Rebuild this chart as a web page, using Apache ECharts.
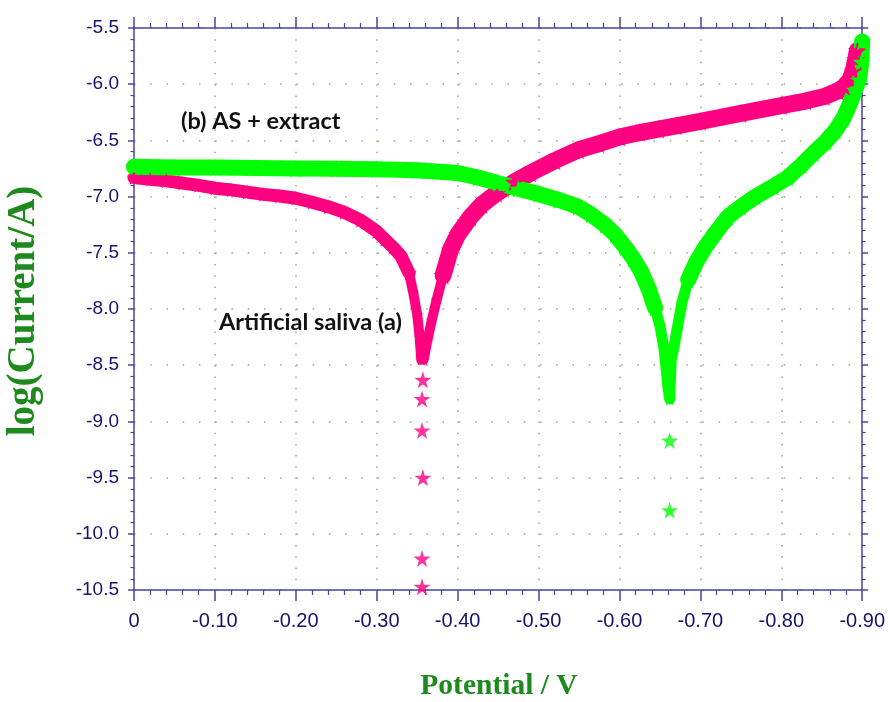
<!DOCTYPE html>
<html>
<head>
<meta charset="utf-8">
<script src="https://cdn.jsdelivr.net/npm/echarts@6/dist/echarts.min.js"></script>
<style>
  html, body { margin: 0; padding: 0; background: #fff; }
  #main { width: 888px; height: 702px; }
</style>
</head>
<body>
<div id="main"></div>
<script>
// tick labels
var xTickLabels = ['0', '-0.10', '-0.20', '-0.30', '-0.40', '-0.50', '-0.60', '-0.70', '-0.80', '-0.90'];
var yTickLabels = ['-10.5', '-10.0', '-9.5', '-9.0', '-8.5', '-8.0', '-7.5', '-7.0', '-6.5', '-6.0', '-5.5'];

// (a) artificial saliva : [potential V, log(I/A)]
var salivaCathodic = [
    [0, -6.83], [-0.02, -6.845], [-0.04, -6.86], [-0.06, -6.88], [-0.08, -6.90],
    [-0.10, -6.925], [-0.12, -6.94], [-0.14, -6.96], [-0.16, -6.98], [-0.18, -6.995],
    [-0.20, -7.015], [-0.22, -7.05], [-0.24, -7.09], [-0.26, -7.14], [-0.28, -7.21],
    [-0.30, -7.31], [-0.31, -7.38], [-0.32, -7.45], [-0.33, -7.53], [-0.34, -7.68],
    [-0.345, -7.85], [-0.35, -8.05], [-0.353, -8.25], [-0.355, -8.45]
];
var salivaTip = [
    [-0.357, -8.63], [-0.356, -8.80], [-0.356, -9.08], [-0.357, -9.50], [-0.356, -10.22], [-0.356, -10.47]
];
var salivaAnodic = [
    [-0.355, -8.45], [-0.358, -8.45], [-0.362, -8.30], [-0.368, -8.10], [-0.374, -7.92], [-0.382, -7.70],
    [-0.391, -7.475], [-0.40, -7.34], [-0.416, -7.18], [-0.43, -7.07], [-0.448, -6.97],
    [-0.47, -6.87], [-0.49, -6.79], [-0.52, -6.68], [-0.549, -6.585], [-0.574, -6.53],
    [-0.60, -6.47], [-0.625, -6.43], [-0.648, -6.40], [-0.67, -6.37], [-0.70, -6.33],
    [-0.75, -6.26], [-0.80, -6.19], [-0.83, -6.15], [-0.853, -6.11], [-0.87, -6.06],
    [-0.878, -6.02], [-0.885, -5.96], [-0.889, -5.88], [-0.892, -5.78], [-0.894, -5.70]
];

// (b) AS + extract
var extractCathodic = [
    [0, -6.735], [-0.05, -6.74], [-0.10, -6.742], [-0.15, -6.745], [-0.20, -6.75],
    [-0.25, -6.752], [-0.30, -6.757], [-0.35, -6.765], [-0.40, -6.79], [-0.425, -6.83],
    [-0.45, -6.88], [-0.475, -6.93], [-0.50, -6.977], [-0.525, -7.03], [-0.549, -7.09],
    [-0.565, -7.16], [-0.582, -7.25], [-0.595, -7.34], [-0.607, -7.45], [-0.617, -7.55],
    [-0.627, -7.67], [-0.636, -7.82], [-0.644, -7.99], [-0.650, -8.15], [-0.655, -8.35],
    [-0.658, -8.55], [-0.660, -8.70], [-0.662, -8.80]
];
var extractTip = [
    [-0.662, -9.17], [-0.662, -9.79]
];
var extractAnodic = [
    [-0.664, -8.45], [-0.667, -8.35], [-0.671, -8.19], [-0.677, -7.95], [-0.685, -7.74],
    [-0.695, -7.58], [-0.706, -7.45], [-0.72, -7.31], [-0.734, -7.18], [-0.75, -7.09],
    [-0.768, -7.00], [-0.79, -6.91], [-0.808, -6.83], [-0.825, -6.72], [-0.84, -6.61],
    [-0.855, -6.51], [-0.867, -6.41], [-0.877, -6.30], [-0.885, -6.17], [-0.891, -6.05],
    [-0.896, -5.96], [-0.899, -5.80], [-0.90, -5.62]
];

var star = 'path://M50,0 L61,35 L98,35 L68,57 L79,91 L50,70 L21,91 L32,57 L2,35 L39,35 Z';
var pink = '#ff0080';
var green = '#00ff00';
var axisColor = '#4646a0';
var labelColor = '#14146e';
var dotColor = '#8fb27a';
var labelFont = 'Liberation Sans, Arial, sans-serif';

var myChart = echarts.init(document.getElementById('main'));

function band(name, data, color, width) {
    return {
        name: name,
        type: 'line',
        data: data,
        clip: false,
        symbol: star,
        symbolSize: width + 2,
        showAllSymbol: true,
        itemStyle: { color: color },
        lineStyle: { color: color, width: width, cap: 'round', join: 'round' },
        animation: false
    };
}
function dots(name, data, color) {
    return {
        name: name,
        type: 'scatter',
        data: data,
        clip: false,
        symbol: star,
        symbolSize: 17,
        itemStyle: { color: color },
        animation: false
    };
}

var xCommon = {
    type: 'value',
    min: -0.9,
    max: 0,
    interval: 0.1,
    inverse: true,
    axisLine: { show: true, onZero: false, lineStyle: { color: axisColor, width: 1.5 } },
    axisTick: { show: true, length: 11, lineStyle: { color: axisColor, width: 1.5 } },
    minorTick: { show: true, splitNumber: 5, length: 5, lineStyle: { color: axisColor, width: 1.2 } }
};
var yCommon = {
    type: 'value',
    min: -10.5,
    max: -5.5,
    interval: 0.5,
    axisLine: { show: true, onZero: false, lineStyle: { color: axisColor, width: 1.5 } },
    axisTick: { show: true, length: 6, lineStyle: { color: axisColor, width: 1.5 } },
    minorTick: { show: true, splitNumber: 5, length: 3.5, lineStyle: { color: axisColor, width: 1.2 } }
};

var option = {
    backgroundColor: '#fff',
    grid: { left: 134, right: 23, top: 28, bottom: 112, containLabel: false },
    xAxis: [
        Object.assign({}, xCommon, {
            position: 'bottom',
            axisLabel: {
                margin: 21,
                color: labelColor,
                fontFamily: labelFont,
                fontSize: 20,
                formatter: function (v) { return xTickLabels[Math.round(-v * 10)]; }
            },
            splitLine: { show: true, lineStyle: { color: dotColor, width: 1.5, type: [1.5, 9.74] } }
        }),
        Object.assign({}, xCommon, {
            position: 'top',
            axisLabel: { show: false },
            splitLine: { show: false }
        })
    ],
    yAxis: [
        Object.assign({}, yCommon, {
            position: 'left',
            axisLabel: {
                margin: 15,
                color: labelColor,
                fontFamily: labelFont,
                fontSize: 19,
                formatter: function (v) { return yTickLabels[Math.round((v + 10.5) * 2)]; }
            },
            splitLine: { show: true, lineStyle: { color: dotColor, width: 1.5, type: [1.5, 14.74] } }
        }),
        Object.assign({}, yCommon, {
            position: 'right',
            axisLabel: { show: false },
            splitLine: { show: false }
        })
    ],
    series: [
        // wide band away from Ecorr, narrow where the two branches dive down
        band('Artificial saliva (a)', salivaCathodic.slice(0, 20), pink, 13),
        band('Artificial saliva (a) near Ecorr', salivaCathodic.slice(19).concat(salivaAnodic.slice(0, 6)), pink, 10),
        band('Artificial saliva (a) anodic', salivaAnodic.slice(5), pink, 17),
        dots('Artificial saliva (a) tip', salivaTip, pink),
        band('(b) AS + extract', extractCathodic.slice(0, 23), green, 16),
        band('(b) AS + extract near Ecorr', extractCathodic.slice(22).concat(extractAnodic.slice(0, 5)), green, 11),
        band('(b) AS + extract anodic', extractAnodic.slice(4), green, 16),
        dots('(b) AS + extract tip', extractTip, green)
    ],
    graphic: [
        {
            type: 'text', x: 181, y: 121, z: 100,
            style: { text: '(b) AS + extract', fill: '#111', verticalAlign: 'middle', font: 'bold 23.5px Lato, "Open Sans", sans-serif' }
        },
        {
            type: 'text', x: 219, y: 322, z: 100,
            style: { text: 'Artificial saliva (a)', fill: '#111', verticalAlign: 'middle', font: 'bold 23.5px Lato, "Open Sans", sans-serif' }
        },
        {
            type: 'text', x: 499, y: 686, z: 100,
            style: {
                text: 'Potential / V', fill: '#1e8a1e', align: 'center', verticalAlign: 'middle',
                font: 'bold 29.5px "Liberation Serif", "DejaVu Serif", serif'
            }
        },
        {
            type: 'text', x: 24, y: 311, rotation: Math.PI / 2, z: 100,
            style: {
                text: 'log(Current/A)', fill: '#1e8a1e', align: 'center', verticalAlign: 'middle',
                font: 'bold 39px "Liberation Serif", "DejaVu Serif", serif'
            }
        }
    ]
};

myChart.setOption(option);
</script>
</body>
</html>
